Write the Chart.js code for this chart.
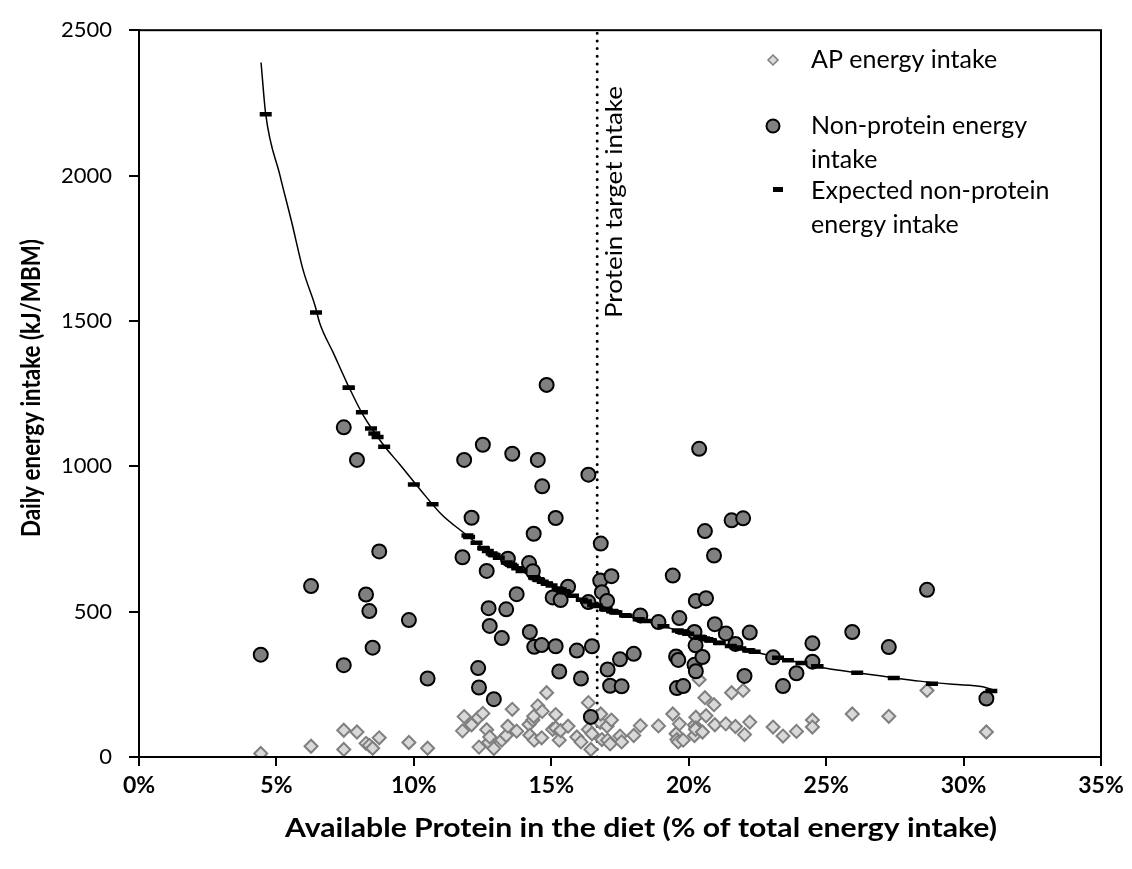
<!DOCTYPE html>
<html>
<head>
<meta charset="utf-8">
<script src="https://cdn.jsdelivr.net/npm/chart.js@4.4.1/dist/chart.umd.min.js"></script>
<style>
  html, body { margin: 0; padding: 0; background: #fff; }
  #wrap { width: 1132px; height: 869px; }
</style>
</head>
<body>
<div id="wrap"><canvas id="chart" width="1132" height="869"></canvas></div>
<script>
// protein share of total energy (%), one entry per animal
const proteinPct = [
  4.43, 6.26, 7.45, 7.45, 7.93, 8.26, 8.38, 8.50, 8.74, 9.82,
  10.5, 11.77, 11.83, 12.1, 12.34, 12.37, 12.51, 12.65, 12.72, 12.76,
  12.91, 13.2, 13.36, 13.42, 13.58, 13.74, 14.19, 14.22, 14.33, 14.36,
  14.38, 14.51, 14.65, 14.67, 14.83, 15.05, 15.16, 15.16, 15.29, 15.34,
  15.61, 15.93, 16.08, 16.35, 16.35, 16.44, 16.48, 16.78, 16.8, 16.84,
  17.03, 17.05, 17.14, 17.19, 17.5, 17.56, 18.0, 18.24, 18.9, 19.42,
  19.54, 19.57, 19.62, 19.66, 19.8, 20.21, 20.21, 20.26, 20.26, 20.25,
  20.38, 20.5, 20.59, 20.63, 20.92, 20.95, 21.35, 21.56, 21.7, 21.98,
  22.03, 22.22, 23.07, 23.43, 23.92, 24.5, 24.5, 25.95, 27.28, 28.67,
  30.83
];

const apEnergy = [
  12, 37, 92, 26, 86, 47, 40, 30, 66, 50,
  30, 90, 139, 111, 135, 34, 150, 94, 50, 69,
  29, 58, 74, 106, 164, 89, 112, 75, 127, 140,
  58, 176, 66, 157, 221, 95, 146, 100, 58, 91,
  106, 69, 52, 187, 95, 26, 80, 119, 148, 60,
  106, 58, 45, 127, 72, 52, 74, 108, 107, 148,
  80, 60, 52, 114, 58, 74, 110, 137, 100, 95,
  266, 86, 204, 142, 180, 111, 114, 221, 105, 229,
  77, 120, 103, 72, 88, 127, 103, 148, 140, 229,
  86
];

const npEnergy = [
  352, 588, 1134, 316, 1022, 559, 502, 376, 707, 471,
  270, 687, 1022, 823, 306, 239, 1074, 640, 512, 451,
  199, 409, 508, 682, 1043, 560, 667, 430, 639, 768,
  379, 1022, 385, 931, 1280, 549, 822, 381, 294, 540,
  586, 366, 270, 971, 533, 138, 381, 607, 734, 567,
  537, 301, 245, 622, 336, 243, 355, 487, 464, 624,
  346, 237, 334, 478, 244, 430, 317, 537, 295, 384,
  1060, 344, 777, 546, 693, 457, 425, 814, 389, 821,
  279, 428, 343, 244, 288, 391, 328, 430, 378, 575,
  201
];

const expectedPct = [
  4.61, 6.44, 7.63, 7.63, 8.11, 8.44, 8.56, 8.68, 8.92, 10.0,
  10.68, 11.95, 12.01, 12.28, 12.52, 12.55, 12.69, 12.83, 12.9, 12.94,
  13.09, 13.38, 13.54, 13.6, 13.76, 13.92, 14.37, 14.4, 14.51, 14.54,
  14.56, 14.69, 14.83, 14.85, 15.01, 15.23, 15.34, 15.34, 15.47, 15.52,
  15.79, 16.11, 16.26, 16.53, 16.53, 16.62, 16.66, 16.96, 16.98, 17.02,
  17.21, 17.23, 17.32, 17.37, 17.68, 17.74, 18.18, 18.42, 19.08, 19.6,
  19.72, 19.75, 19.8, 19.84, 19.98, 20.39, 20.39, 20.44, 20.44, 20.43,
  20.56, 20.68, 20.77, 20.81, 21.1, 21.13, 21.53, 21.74, 21.88, 22.16,
  22.21, 22.4, 23.25, 23.61, 24.1, 24.68, 24.68, 26.13, 27.46, 28.85,
  31.01
];

const expectedEnergy = [
  2211, 1529, 1270, 1270, 1186, 1130, 1113, 1101, 1067, 937,
  869, 762, 757, 737, 719, 717, 709, 700, 696, 694,
  685, 669, 661, 657, 649, 640, 618, 616, 611, 610,
  609, 603, 597, 596, 590, 580, 575, 575, 570, 567,
  555, 541, 535, 523, 523, 520, 519, 509, 508, 507,
  502, 501, 498, 497, 488, 486, 474, 468, 450, 435,
  432, 431, 429, 428, 424, 413, 413, 411, 411, 411,
  408, 405, 402, 401, 393, 392, 382, 377, 373, 367,
  366, 362, 341, 333, 323, 312, 312, 290, 272, 252,
  227
];

// fitted curve
const curvePct = [
  4.44, 4.61, 5.13, 5.55, 5.98, 6.4, 6.58, 7.07, 7.56, 8.16,
  8.89, 9.49, 10.22, 11.0, 11.9, 12.5, 13.4, 14.2, 15.0, 15.8,
  16.6, 17.7, 18.9, 20.2, 21.4, 22.6, 24.0, 25.0, 26.1, 27.2,
  28.4, 29.6, 30.7, 31.15
];
const curveEnergy = [
  2389, 2211, 2000, 1842, 1672, 1554, 1491, 1390, 1288, 1175,
  1074, 1006, 921, 835, 765, 720, 668, 625, 590, 555,
  520, 487, 455, 418, 385, 357, 325, 305, 290, 276,
  261, 250, 242, 228
];

const targetPct = 16.67;
const xTicks = [0, 5, 10, 15, 20, 25, 30, 35];
const yTicks = [0, 500, 1000, 1500, 2000, 2500];

const FONT = 'Lato, "Open Sans", sans-serif';

const toPoints = (xs, ys) => xs.map((x, i) => ({ x, y: ys[i] }));

// draw text squeezed/stretched to a given width
const fitText = (ctx, text, x, y, width) => {
  const w = ctx.measureText(text).width;
  ctx.save();
  ctx.translate(x, y);
  ctx.scale(width / w, 1);
  ctx.fillText(text, 0, 0);
  ctx.restore();
};

// frame, target label, legend and axis titles
const decorations = {
  id: 'decorations',
  afterDraw(chart) {
    const { ctx, chartArea, scales } = chart;
    ctx.save();

    ctx.strokeStyle = '#000';
    ctx.lineWidth = 2;
    ctx.strokeRect(chartArea.left, chartArea.top,
      chartArea.right - chartArea.left, chartArea.bottom - chartArea.top);

    // label next to the dotted target line
    const tx = scales.x.getPixelForValue(targetPct);
    ctx.save();
    ctx.translate(tx + 17, 86);
    ctx.rotate(-Math.PI / 2);
    ctx.fillStyle = '#000';
    ctx.font = '24px ' + FONT;
    ctx.textAlign = 'right';
    ctx.textBaseline = 'middle';
    fitText(ctx, 'Protein target intake', 0, 0, 232);
    ctx.restore();

    // legend
    const lx = 773;
    const textX = 811;
    ctx.font = '25px ' + FONT;
    ctx.textAlign = 'left';
    ctx.textBaseline = 'middle';

    ctx.beginPath();
    ctx.moveTo(lx, 60 - 5);
    ctx.lineTo(lx + 5, 60);
    ctx.lineTo(lx, 60 + 5);
    ctx.lineTo(lx - 5, 60);
    ctx.closePath();
    ctx.fillStyle = '#d9d9d9';
    ctx.fill();
    ctx.strokeStyle = '#7f7f7f';
    ctx.lineWidth = 1.5;
    ctx.stroke();
    ctx.fillStyle = '#000';
    ctx.fillText('AP energy intake', textX, 60);

    ctx.beginPath();
    ctx.arc(lx, 126, 6.5, 0, Math.PI * 2);
    ctx.fillStyle = '#808080';
    ctx.fill();
    ctx.strokeStyle = '#000';
    ctx.lineWidth = 2;
    ctx.stroke();
    ctx.fillStyle = '#000';
    ctx.fillText('Non-protein energy', textX, 126);
    ctx.fillText('intake', textX, 160);

    ctx.fillRect(lx, 187, 10, 5);
    ctx.fillText('Expected non-protein', textX, 191);
    ctx.fillText('energy intake', textX, 225);

    // axis titles
    ctx.font = 'bold 27px ' + FONT;
    ctx.textAlign = 'center';
    fitText(ctx, 'Available Protein in the diet (% of total energy intake)', 641, 828, 712);

    ctx.save();
    ctx.translate(31, 388);
    ctx.rotate(-Math.PI / 2);
    fitText(ctx, 'Daily energy intake (kJ/MBM)', 0, 0, 298);
    ctx.restore();

    ctx.restore();
  }
};

const ctx = document.getElementById('chart').getContext('2d');

new Chart(ctx, {
  type: 'scatter',
  data: {
    datasets: [
      {
        label: 'Expected non-protein energy intake',
        data: toPoints(expectedPct, expectedEnergy),
        pointStyle: 'line',
        pointRadius: 6,
        pointBorderWidth: 4.5,
        borderColor: '#000',
        backgroundColor: '#000',
        order: 1,
      },
      {
        label: 'Non-protein energy intake',
        data: toPoints(proteinPct, npEnergy),
        pointStyle: 'circle',
        pointRadius: 7,
        pointBorderWidth: 2,
        borderColor: '#000',
        backgroundColor: '#808080',
        order: 2,
      },
      {
        label: 'AP energy intake',
        data: toPoints(proteinPct, apEnergy),
        pointStyle: 'rectRot',
        pointRadius: 6.5,
        pointBorderWidth: 2,
        borderColor: '#7f7f7f',
        backgroundColor: '#d9d9d9',
        order: 3,
      },
      {
        label: 'curve',
        type: 'line',
        data: toPoints(curvePct, curveEnergy),
        borderColor: '#000',
        borderWidth: 1.5,
        pointRadius: 0,
        fill: false,
        cubicInterpolationMode: 'monotone',
        order: 4,
      },
      {
        label: 'target',
        type: 'line',
        data: [{ x: targetPct, y: 0 }, { x: targetPct, y: 2500 }],
        borderColor: '#000',
        borderWidth: 3,
        borderDash: [0, 7.7],
        borderCapStyle: 'round',
        pointRadius: 0,
        fill: false,
        order: 5,
      },
    ],
  },
  options: {
    responsive: false,
    animation: false,
    layout: { padding: { top: 19, right: 31, left: 0, bottom: 0 } },
    plugins: {
      legend: { display: false },
      tooltip: { enabled: false },
    },
    scales: {
      x: {
        type: 'linear',
        min: 0,
        max: 35,
        afterFit: (s) => { s.height = 112; },
        afterBuildTicks: (s) => { s.ticks = xTicks.map((v) => ({ value: v })); },
        border: { display: true, color: '#000', width: 2 },
        grid: { drawOnChartArea: false, drawTicks: true, tickLength: 9, color: '#000', lineWidth: 2 },
        ticks: {
          color: '#000',
          padding: 6,
          font: { family: FONT, size: 23, weight: 'bold' },
          callback: (v) => v + '%',
        },
      },
      y: {
        type: 'linear',
        min: 0,
        max: 2500,
        afterFit: (s) => { s.width = 139; },
        afterBuildTicks: (s) => { s.ticks = yTicks.map((v) => ({ value: v })); },
        border: { display: true, color: '#000', width: 2 },
        grid: { drawOnChartArea: false, drawTicks: true, tickLength: 10, color: '#000', lineWidth: 2 },
        ticks: {
          color: '#000',
          padding: 17,
          font: { family: FONT, size: 22 },
          callback: (v) => String(v),
        },
      },
    },
  },
  plugins: [decorations],
});
</script>
</body>
</html>
